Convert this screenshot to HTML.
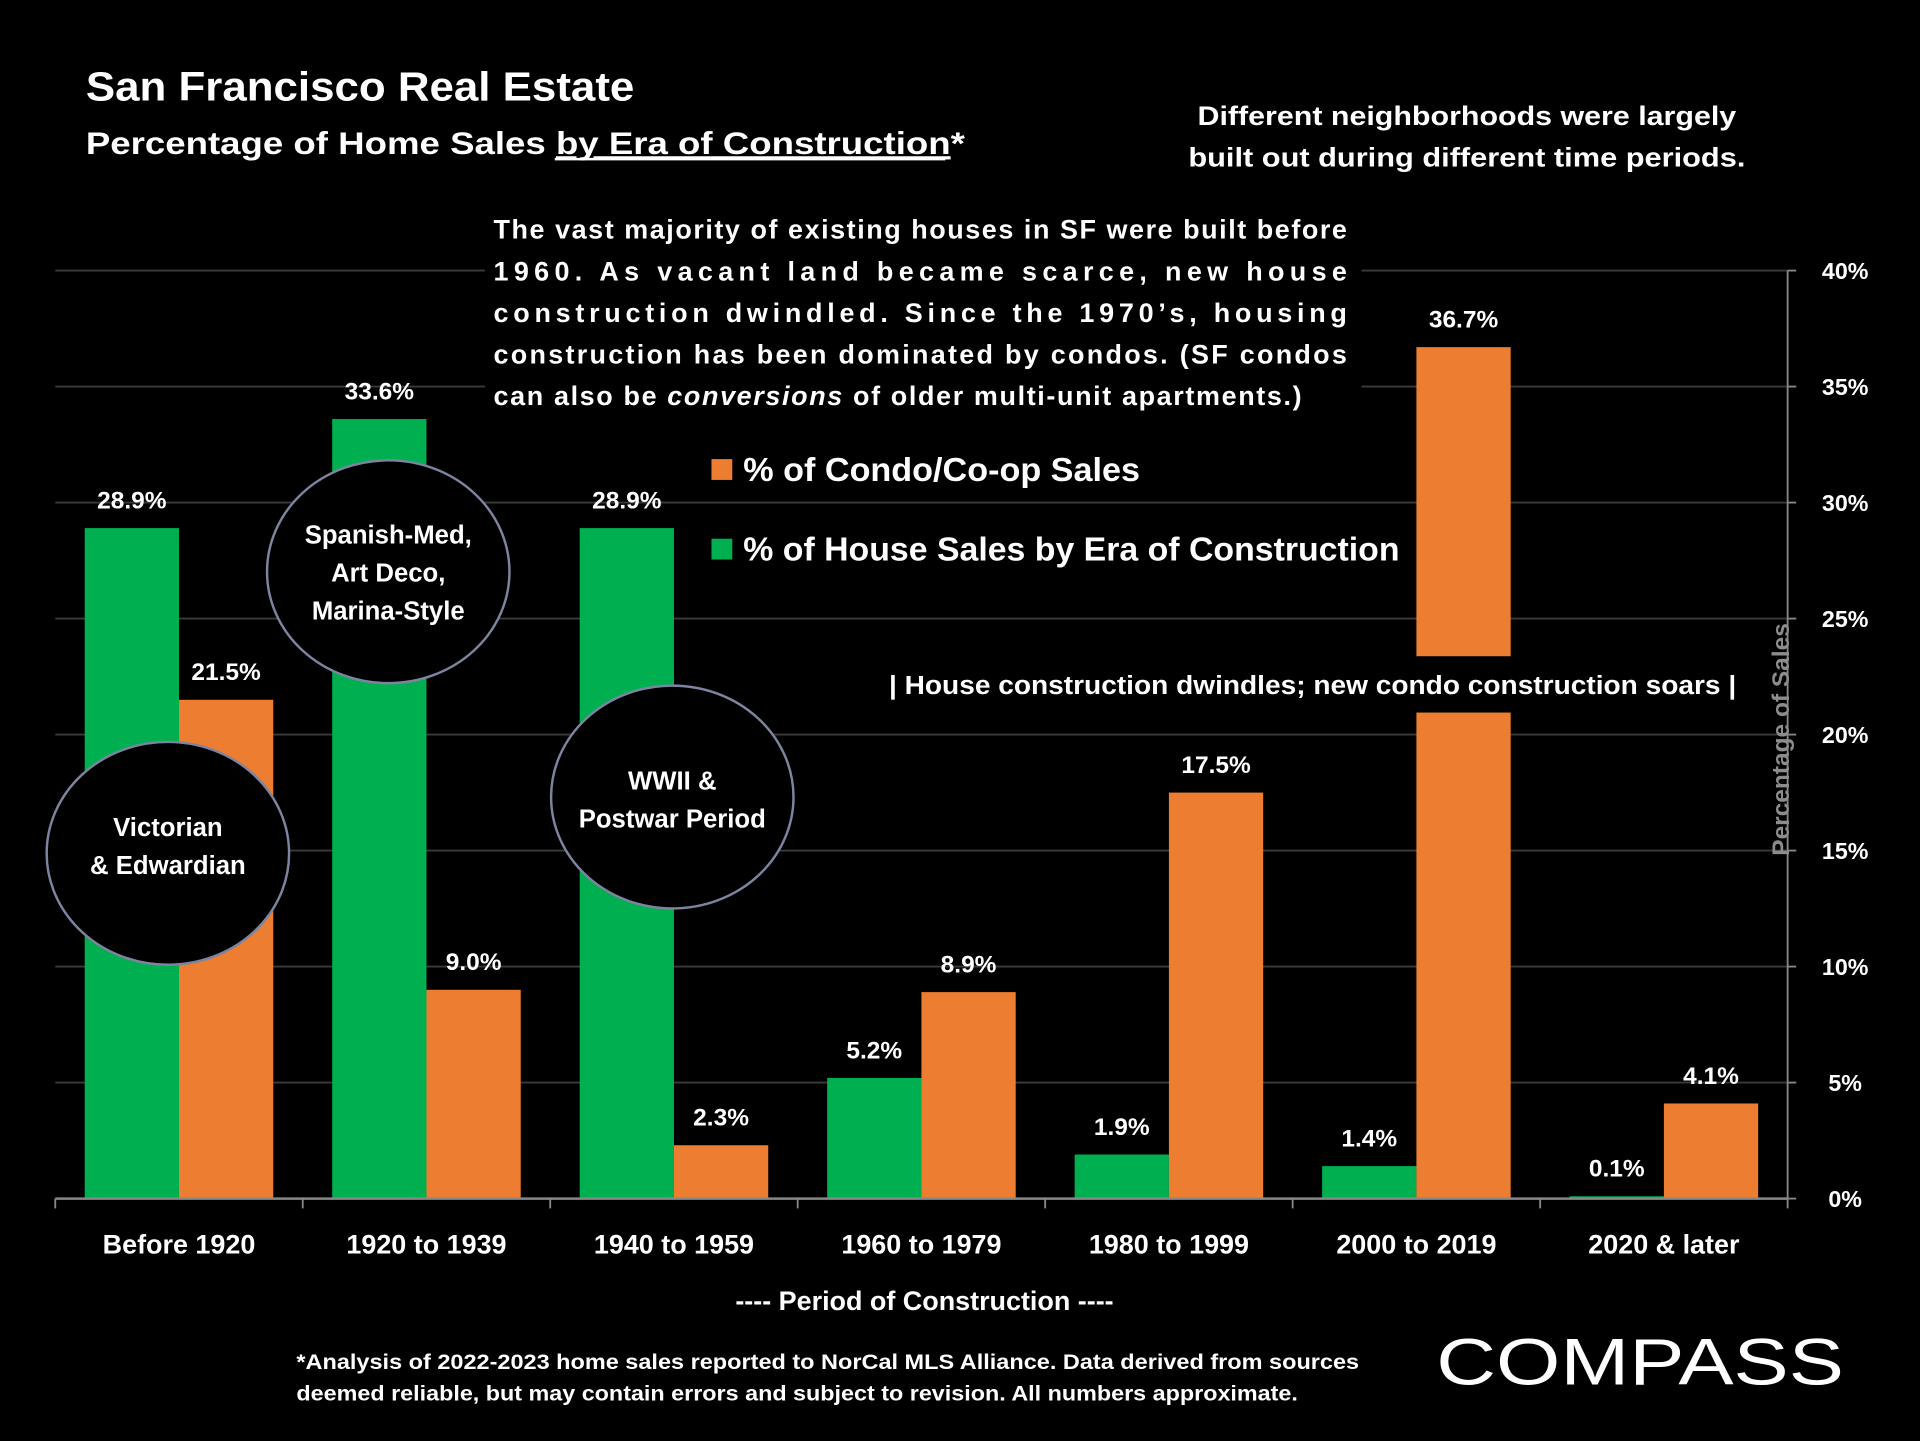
<!DOCTYPE html>
<html><head><meta charset="utf-8"><style>
html,body{margin:0;padding:0;background:#000;}
svg{display:block;font-family:"Liberation Sans",sans-serif;font-weight:bold;}
</style></head><body>
<svg id="c" width="1920" height="1441" viewBox="0 0 1568 1177" xmlns="http://www.w3.org/2000/svg">
<rect x="0" y="0" width="1568" height="1177" fill="#000"/>
<g id="grid"></g>
<g id="bars"></g>
<g id="labels"></g>
<g id="axis"></g>

<rect x="396" y="168" width="716" height="172" fill="#000"/>
<g fill="#fff" font-size="22">
<text x="403" y="195" textLength="697" lengthAdjust="spacing">The vast majority of existing houses in SF were built before</text>
<text x="403" y="229" textLength="697" lengthAdjust="spacing">1960. As vacant land became scarce, new house</text>
<text x="403" y="263" textLength="697" lengthAdjust="spacing">construction dwindled. Since the 1970’s, housing</text>
<text x="403" y="297" textLength="697" lengthAdjust="spacing">construction has been dominated by condos. (SF condos</text>
<text x="403" y="331" textLength="660" lengthAdjust="spacing">can also be <tspan font-style="italic">conversions</tspan> of older multi-unit apartments.)</text>
</g>

<text x="70" y="82" fill="#fff" font-size="33" textLength="448" lengthAdjust="spacingAndGlyphs">San Francisco Real Estate</text>
<text x="70" y="126" fill="#fff" font-size="26" textLength="718" lengthAdjust="spacingAndGlyphs">Percentage of Home Sales <tspan text-decoration="underline">by Era of Construction</tspan>*</text>
<line x1="453" y1="130" x2="772" y2="130" stroke="#fff" stroke-width="2"/>
<g fill="#fff" font-size="22" text-anchor="middle">
<text x="1198" y="102" textLength="440" lengthAdjust="spacingAndGlyphs">Different neighborhoods were largely</text>
<text x="1198" y="136" textLength="455" lengthAdjust="spacingAndGlyphs">built out during different time periods.</text>
</g>

<g>
<rect x="581" y="375" width="17" height="17" fill="#ED7D31"/>
<text x="607" y="393" fill="#fff" font-size="27" textLength="324" lengthAdjust="spacingAndGlyphs">% of Condo/Co-op Sales</text>
<rect x="581" y="440" width="17" height="17" fill="#00B050"/>
<text x="607" y="458" fill="#fff" font-size="27" textLength="536" lengthAdjust="spacingAndGlyphs">% of House Sales by Era of Construction</text>
</g>

<g>
<ellipse cx="137" cy="697" rx="99" ry="91" fill="#000" stroke="#7d84a0" stroke-width="2"/>
<text x="137" y="683" fill="#fff" font-size="21" text-anchor="middle">Victorian</text>
<text x="137" y="714" fill="#fff" font-size="21" text-anchor="middle">&amp; Edwardian</text>
<ellipse cx="317" cy="467" rx="99" ry="91" fill="#000" stroke="#7d84a0" stroke-width="2"/>
<text x="317" y="444" fill="#fff" font-size="21" text-anchor="middle">Spanish-Med,</text>
<text x="317" y="475" fill="#fff" font-size="21" text-anchor="middle">Art Deco,</text>
<text x="317" y="506" fill="#fff" font-size="21" text-anchor="middle">Marina-Style</text>
<ellipse cx="549" cy="651" rx="99" ry="91" fill="#000" stroke="#7d84a0" stroke-width="2"/>
<text x="549" y="645" fill="#fff" font-size="21" text-anchor="middle">WWII &amp;</text>
<text x="549" y="676" fill="#fff" font-size="21" text-anchor="middle">Postwar Period</text>
</g>

<rect x="720" y="536" width="700" height="46" fill="#000"/>
<text x="726" y="567" fill="#fff" font-size="21" textLength="692" lengthAdjust="spacingAndGlyphs">| House construction dwindles;  new condo construction soars |</text>

<text transform="translate(1461,604) rotate(-90)" fill="#8c8c8c" font-size="20" text-anchor="middle">Percentage of Sales</text>
<text x="755" y="1070" fill="#fff" font-size="22" text-anchor="middle">----   Period of Construction   ----</text>

<g fill="#fff" font-size="17">
<text x="242" y="1118" textLength="868" lengthAdjust="spacingAndGlyphs">*Analysis of 2022-2023 home sales reported to NorCal MLS Alliance.  Data derived from sources</text>
<text x="242" y="1144" textLength="818" lengthAdjust="spacingAndGlyphs">deemed reliable, but may contain errors and subject to revision. All numbers approximate.</text>
</g>
<text x="1173" y="1131" fill="#fff" font-size="54" font-weight="normal" textLength="333" lengthAdjust="spacingAndGlyphs">COMPASS</text>
</svg>
<script>
const categories = ["Before 1920","1920 to 1939","1940 to 1959","1960 to 1979","1980 to 1999","2000 to 2019","2020 & later"];
const houseValues = [28.9,33.6,28.9,5.2,1.9,1.4,0.1];
const condoValues = [21.5,9.0,2.3,8.9,17.5,36.7,4.1];
const yTicks = [0,5,10,15,20,25,30,35,40];

const NS="http://www.w3.org/2000/svg";
const X0=45,X1=1460,Y0=979,Y40=221;
const yScale=v=>Y0-(v/40)*(Y0-Y40);
const band=(X1-X0)/categories.length;
const xCenter=i=>X0+band*(i+0.5);
const bw=77;
function mk(tag,attrs,parent,txt){const e=document.createElementNS(NS,tag);for(const k in attrs)e.setAttribute(k,attrs[k]);if(txt!==undefined)e.textContent=txt;parent.appendChild(e);return e;}
const grid=document.getElementById('grid'),bars=document.getElementById('bars'),labels=document.getElementById('labels'),axis=document.getElementById('axis');
yTicks.forEach(t=>{
  if(t>0){const l=mk('line',{x1:X0,x2:X1,y1:yScale(t),y2:yScale(t),stroke:'#3a3a3a','stroke-width':1.5},grid);
  
  }
  const tx=mk('text',{x:1507,y:yScale(t)+7,fill:'#fff','font-size':19,'text-anchor':'middle'},axis,t+'%');
  
  
  mk('line',{x1:X1,x2:X1+7,y1:yScale(t),y2:yScale(t),stroke:'#888','stroke-width':1.5},axis);
});
mk('line',{x1:X1,x2:X1,y1:Y40,y2:Y0,stroke:'#888','stroke-width':1.5},axis);
mk('line',{x1:X0,x2:X1,y1:Y0,y2:Y0,stroke:'#888','stroke-width':2},axis);
for(let i=0;i<=categories.length;i++){mk('line',{x1:X0+band*i,x2:X0+band*i,y1:Y0,y2:Y0+8,stroke:'#888','stroke-width':1.5},axis);}
categories.forEach((c,i)=>{
  const cx=xCenter(i);
  const hv=houseValues[i],cv=condoValues[i];
  const hb=mk('rect',{x:cx-bw,y:yScale(hv),width:bw,height:Y0-yScale(hv),fill:'#00B050'},bars);
  
  
  const cb=mk('rect',{x:cx,y:yScale(cv),width:bw,height:Y0-yScale(cv),fill:'#ED7D31'},bars);
  
  
  const hl=mk('text',{x:cx-bw/2,y:yScale(hv)-16,fill:'#fff','font-size':20,'text-anchor':'middle'},labels,hv.toFixed(1)+'%');
  
  
  const cl=mk('text',{x:cx+bw/2,y:yScale(cv)-16,fill:'#fff','font-size':20,'text-anchor':'middle'},labels,cv.toFixed(1)+'%');
  
  
  const xl=mk('text',{x:cx,y:1024,fill:'#fff','font-size':22,'text-anchor':'middle'},axis,c);
  
  
});
</script>
</body></html>
